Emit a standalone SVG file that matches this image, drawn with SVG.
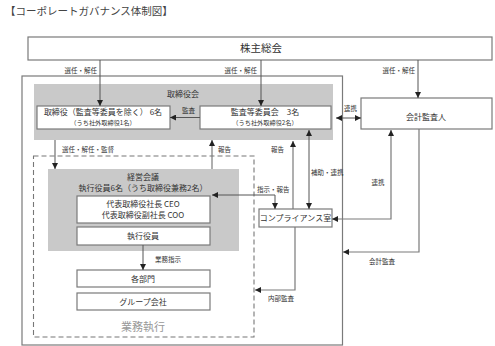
<svg xmlns="http://www.w3.org/2000/svg" width="495" height="346" viewBox="0 0 495 346">
<style>
text{font-family:"Noto Sans CJK JP","Noto Sans",sans-serif;fill:#333}
.box{fill:#fff;stroke:#7a7a7a;stroke-width:1.2}
.gray{fill:#c9c9c9}
.m{font-size:8px;text-anchor:middle}
.s{font-size:6.2px;text-anchor:middle}
.l{font-size:6.5px}
.c{fill:none;stroke:#555;stroke-width:1}
.cg{fill:none;stroke:#7a7a7a;stroke-width:1.2}
</style>
<defs>
<marker id="a" markerUnits="userSpaceOnUse" markerWidth="6" markerHeight="6" refX="6" refY="3" orient="auto-start-reverse">
<path d="M0,0 L6,3 L0,6 z" fill="#222"/>
</marker>
</defs>
<rect width="495" height="346" fill="#fff"/>
<text x="5" y="15" style="font-size:10.5px;fill:#444">【コーポレートガバナンス体制図】</text>

<g id="outer"><rect x="22" y="76" width="320.5" height="269" class="cg"/></g>
<g id="board-council"><rect x="34" y="84" width="299" height="56" class="gray"/><text x="183" y="97" class="m">取締役会</text></g>
<g id="exec-area"><rect x="33.5" y="156" width="220.5" height="181" fill="none" stroke="#777" stroke-width="1.1" stroke-dasharray="5,3"/><text x="143" y="331" style="font-size:11px;text-anchor:middle;fill:#999">業務執行</text></g>
<g id="mgmt-council"><rect x="48" y="169" width="191" height="82" class="gray"/><text x="143" y="180" class="m">経営会議</text><text x="143" y="191" class="m">執行役員6名（うち取締役兼務2名）</text></g>

<g id="shareholders"><rect x="28" y="37" width="464" height="23" class="box"/><text x="261" y="52" style="font-size:10.5px;text-anchor:middle">株主総会</text></g>
<g id="directors"><rect x="37" y="106" width="133" height="23" class="box"/><text x="103" y="115" class="m">取締役（監査等委員を除く） 6名</text><text x="103" y="125" class="s">（うち社外取締役1名）</text></g>
<g id="audit-committee"><rect x="200" y="106" width="131" height="23" class="box"/><text x="265" y="115" class="m">監査等委員会　3名</text><text x="265" y="125" class="s">（うち社外取締役2名）</text></g>
<g id="accounting-auditor"><rect x="361" y="98" width="131" height="31" class="box"/><text x="426" y="120" class="m">会計監査人</text></g>
<g id="ceo"><rect x="77" y="196" width="133" height="27" class="box"/><text x="143" y="206.5" class="m">代表取締役社長  CEO</text><text x="143" y="217.5" class="m">代表取締役副社長  COO</text></g>
<g id="officers"><rect x="77" y="227" width="133" height="18" class="box"/><text x="143" y="239" class="m">執行役員</text></g>
<g id="departments"><rect x="77" y="270" width="133" height="17" class="box"/><text x="143" y="281.5" class="m">各部門</text></g>
<g id="group"><rect x="77" y="293" width="133" height="17" class="box"/><text x="143" y="304.5" class="m">グループ会社</text></g>
<g id="compliance"><rect x="259" y="209" width="73" height="18" class="box"/><text x="295.5" y="221" class="m">コンプライアンス室</text></g>

<g id="connectors">
<path d="M100,60 V106" class="c" marker-end="url(#a)"/>
<path d="M261,60 V106" class="c" marker-end="url(#a)"/>
<path d="M418,60 V98" class="c" marker-end="url(#a)"/>
<path d="M200,117.5 H170" class="c" marker-end="url(#a)"/>
<path d="M336,118 H361" class="c" marker-start="url(#a)" marker-end="url(#a)"/>
<path d="M55,140 V169" class="c" marker-end="url(#a)"/>
<path d="M212,169 V140" class="cg" marker-end="url(#a)"/>
<path d="M275,209 V195 H212" class="c" marker-start="url(#a)" marker-end="url(#a)"/>
<path d="M293,209 V141" class="cg" marker-end="url(#a)"/>
<path d="M309,130 V209" class="c" marker-start="url(#a)" marker-end="url(#a)"/>
<path d="M391,130 V219 H332" class="cg" marker-start="url(#a)" marker-end="url(#a)"/>
<path d="M419,129 V252 H343" class="cg" marker-end="url(#a)"/>
<path d="M295,227 V290 H255" class="cg" marker-end="url(#a)"/>
<path d="M143,245 V270" class="c" marker-end="url(#a)"/>
<text x="97" y="73" class="l" text-anchor="end">選任・解任</text>
<text x="257" y="73" class="l" text-anchor="end">選任・解任</text>
<text x="415" y="73" class="l" text-anchor="end">選任・解任</text>
<text x="188.5" y="113" class="l" text-anchor="middle">監査</text>
<text x="350.5" y="111" class="l" text-anchor="middle">連携</text>
<text x="62" y="151.5" class="l">選任・解任・監督</text>
<text x="218" y="151.5" class="l">報告</text>
<text x="284" y="151.5" class="l" text-anchor="end">報告</text>
<text x="311" y="175" class="l">補助・連携</text>
<text x="257" y="191.5" class="l">指示・報告</text>
<text x="378" y="184.5" class="l" text-anchor="middle">連携</text>
<text x="382" y="263.5" class="l" text-anchor="middle">会計監査</text>
<text x="281" y="300.5" class="l" text-anchor="middle">内部監査</text>
<text x="155" y="261.5" class="l">業務指示</text>
</g>
</svg>
